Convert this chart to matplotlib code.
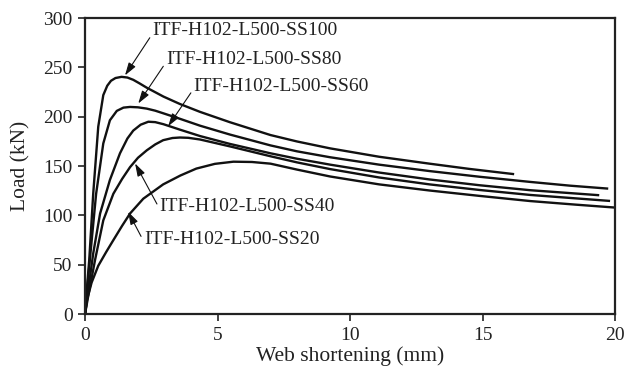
import matplotlib
matplotlib.use("Agg")
import matplotlib.pyplot as plt

plt.rcParams['font.family'] = ['Liberation Serif', 'DejaVu Serif']

# Data (web shortening in mm, load in kN)
ss100_x = [0, 0.06, 0.16, 0.31, 0.5, 0.69, 0.84, 0.98, 1.15, 1.38, 1.6, 1.82, 2.05, 2.33, 2.96, 3.58, 4.34, 5.47, 7.0, 8.0, 9.25, 11.1, 13.0, 14.5, 16.15]
ss100_y = [0, 22, 55, 122, 190, 222, 231.5, 236.5, 239.3, 240.5, 239.8, 237.5, 234, 229.5, 220.5, 213, 205, 194.5, 181.5, 175, 168, 159.5, 152.5, 147.2, 142]

ss80_x = [0, 0.08, 0.2, 0.42, 0.69, 0.94, 1.2, 1.45, 1.7, 2.0, 2.33, 2.65, 2.96, 3.58, 4.34, 5.47, 7.0, 8.0, 9.25, 11.1, 13.0, 14.9, 16.8, 18.3, 19.7]
ss80_y = [0, 25, 60, 122, 173, 196.5, 206, 209.3, 210, 209.6, 208.3, 206.2, 203.5, 198, 191, 182, 171, 165, 159, 151.5, 145, 139.2, 134, 130.2, 127.3]

ss60_x = [0, 0.1, 0.31, 0.57, 0.94, 1.32, 1.6, 1.82, 2.1, 2.39, 2.65, 2.96, 3.58, 4.34, 5.47, 7.0, 8.0, 9.25, 11.1, 13.0, 14.9, 16.8, 19.36]
ss60_y = [0, 20, 61.5, 102, 136, 163, 178, 186, 192, 195, 194.6, 192.5, 187, 180.5, 172.5, 163, 157.5, 151.5, 143.5, 136.5, 130.6, 125.6, 120.6]

ss40_x = [0, 0.12, 0.38, 0.69, 1.07, 1.4, 1.7, 2.0, 2.33, 2.65, 2.95, 3.3, 3.58, 3.9, 4.34, 5.47, 7.0, 8.0, 9.25, 11.1, 13.0, 14.9, 16.8, 19.77]
ss40_y = [0, 18, 55, 95, 122, 137, 149, 158.5, 166, 172, 176.3, 178.5, 179, 178.7, 177, 170, 160, 153.8, 147, 138.5, 131.5, 125.8, 120.8, 114.8]

ss20_x = [0, 0.08, 0.25, 0.5, 0.8, 1.07, 1.4, 1.7, 2.2, 2.95, 3.6, 4.2, 4.9, 5.6, 6.3, 7.0, 8.0, 9.25, 11.1, 13.0, 14.9, 16.8, 18.5, 20]
ss20_y = [0, 15, 32, 49, 63, 75, 89.5, 102, 117, 131.5, 140.5, 147.5, 152.3, 154.5, 154.2, 152.5, 146.5, 139.5, 131.5, 125.3, 119.8, 114.6, 111, 108]

labels = ["ITF-H102-L500-SS100", "ITF-H102-L500-SS80", "ITF-H102-L500-SS60",
          "ITF-H102-L500-SS40", "ITF-H102-L500-SS20"]
# annotation: arrow tip (x, y) and text left/centre (x, y)
tips = [(1.51, 242), (2.01, 213.5), (3.14, 190.5), (1.89, 152.7), (1.63, 103.7)]
text_pos = [(2.55, 287), (3.06, 258), (4.1, 231), (2.82, 109), (2.22, 76)]

fig = plt.figure(figsize=(6.25, 3.78), dpi=100)
ax = fig.add_axes([0.136, 0.169, 0.848, 0.783])

for xs, ys in [(ss100_x, ss100_y), (ss80_x, ss80_y), (ss60_x, ss60_y),
               (ss40_x, ss40_y), (ss20_x, ss20_y)]:
    ax.plot(xs, ys, color='#111111', lw=1.7, solid_joinstyle='round')

for lab, tip, tp in zip(labels, tips, text_pos):
    ax.annotate(lab, xy=tip, xytext=tp, ha='left', va='center', fontsize=14,
                color='#222222',
                arrowprops=dict(arrowstyle='-|>,head_length=0.7,head_width=0.22',
                                color='#111111', lw=0.8,
                                mutation_scale=11, shrinkA=0, shrinkB=0,
                                relpos=(0, 0.35)))

ax.set_xlim(0, 20)
ax.set_ylim(0, 300)
ax.set_xticks([0, 5, 10, 15, 20])
ax.set_yticks([0, 50, 100, 150, 200, 250, 300])
ax.tick_params(direction='out', length=5, width=1.2, labelsize=14,
               colors='#222222', top=False, right=False, pad=4)
for s in ax.spines.values():
    s.set_linewidth(1.6)
    s.set_color('#222222')
ax.set_xlabel('Web shortening (mm)', fontsize=15.5, color='#222222', labelpad=2)
ax.set_ylabel('Load (kN)', fontsize=15.5, color='#222222', labelpad=9)

fig.savefig('out.png', dpi=100)
